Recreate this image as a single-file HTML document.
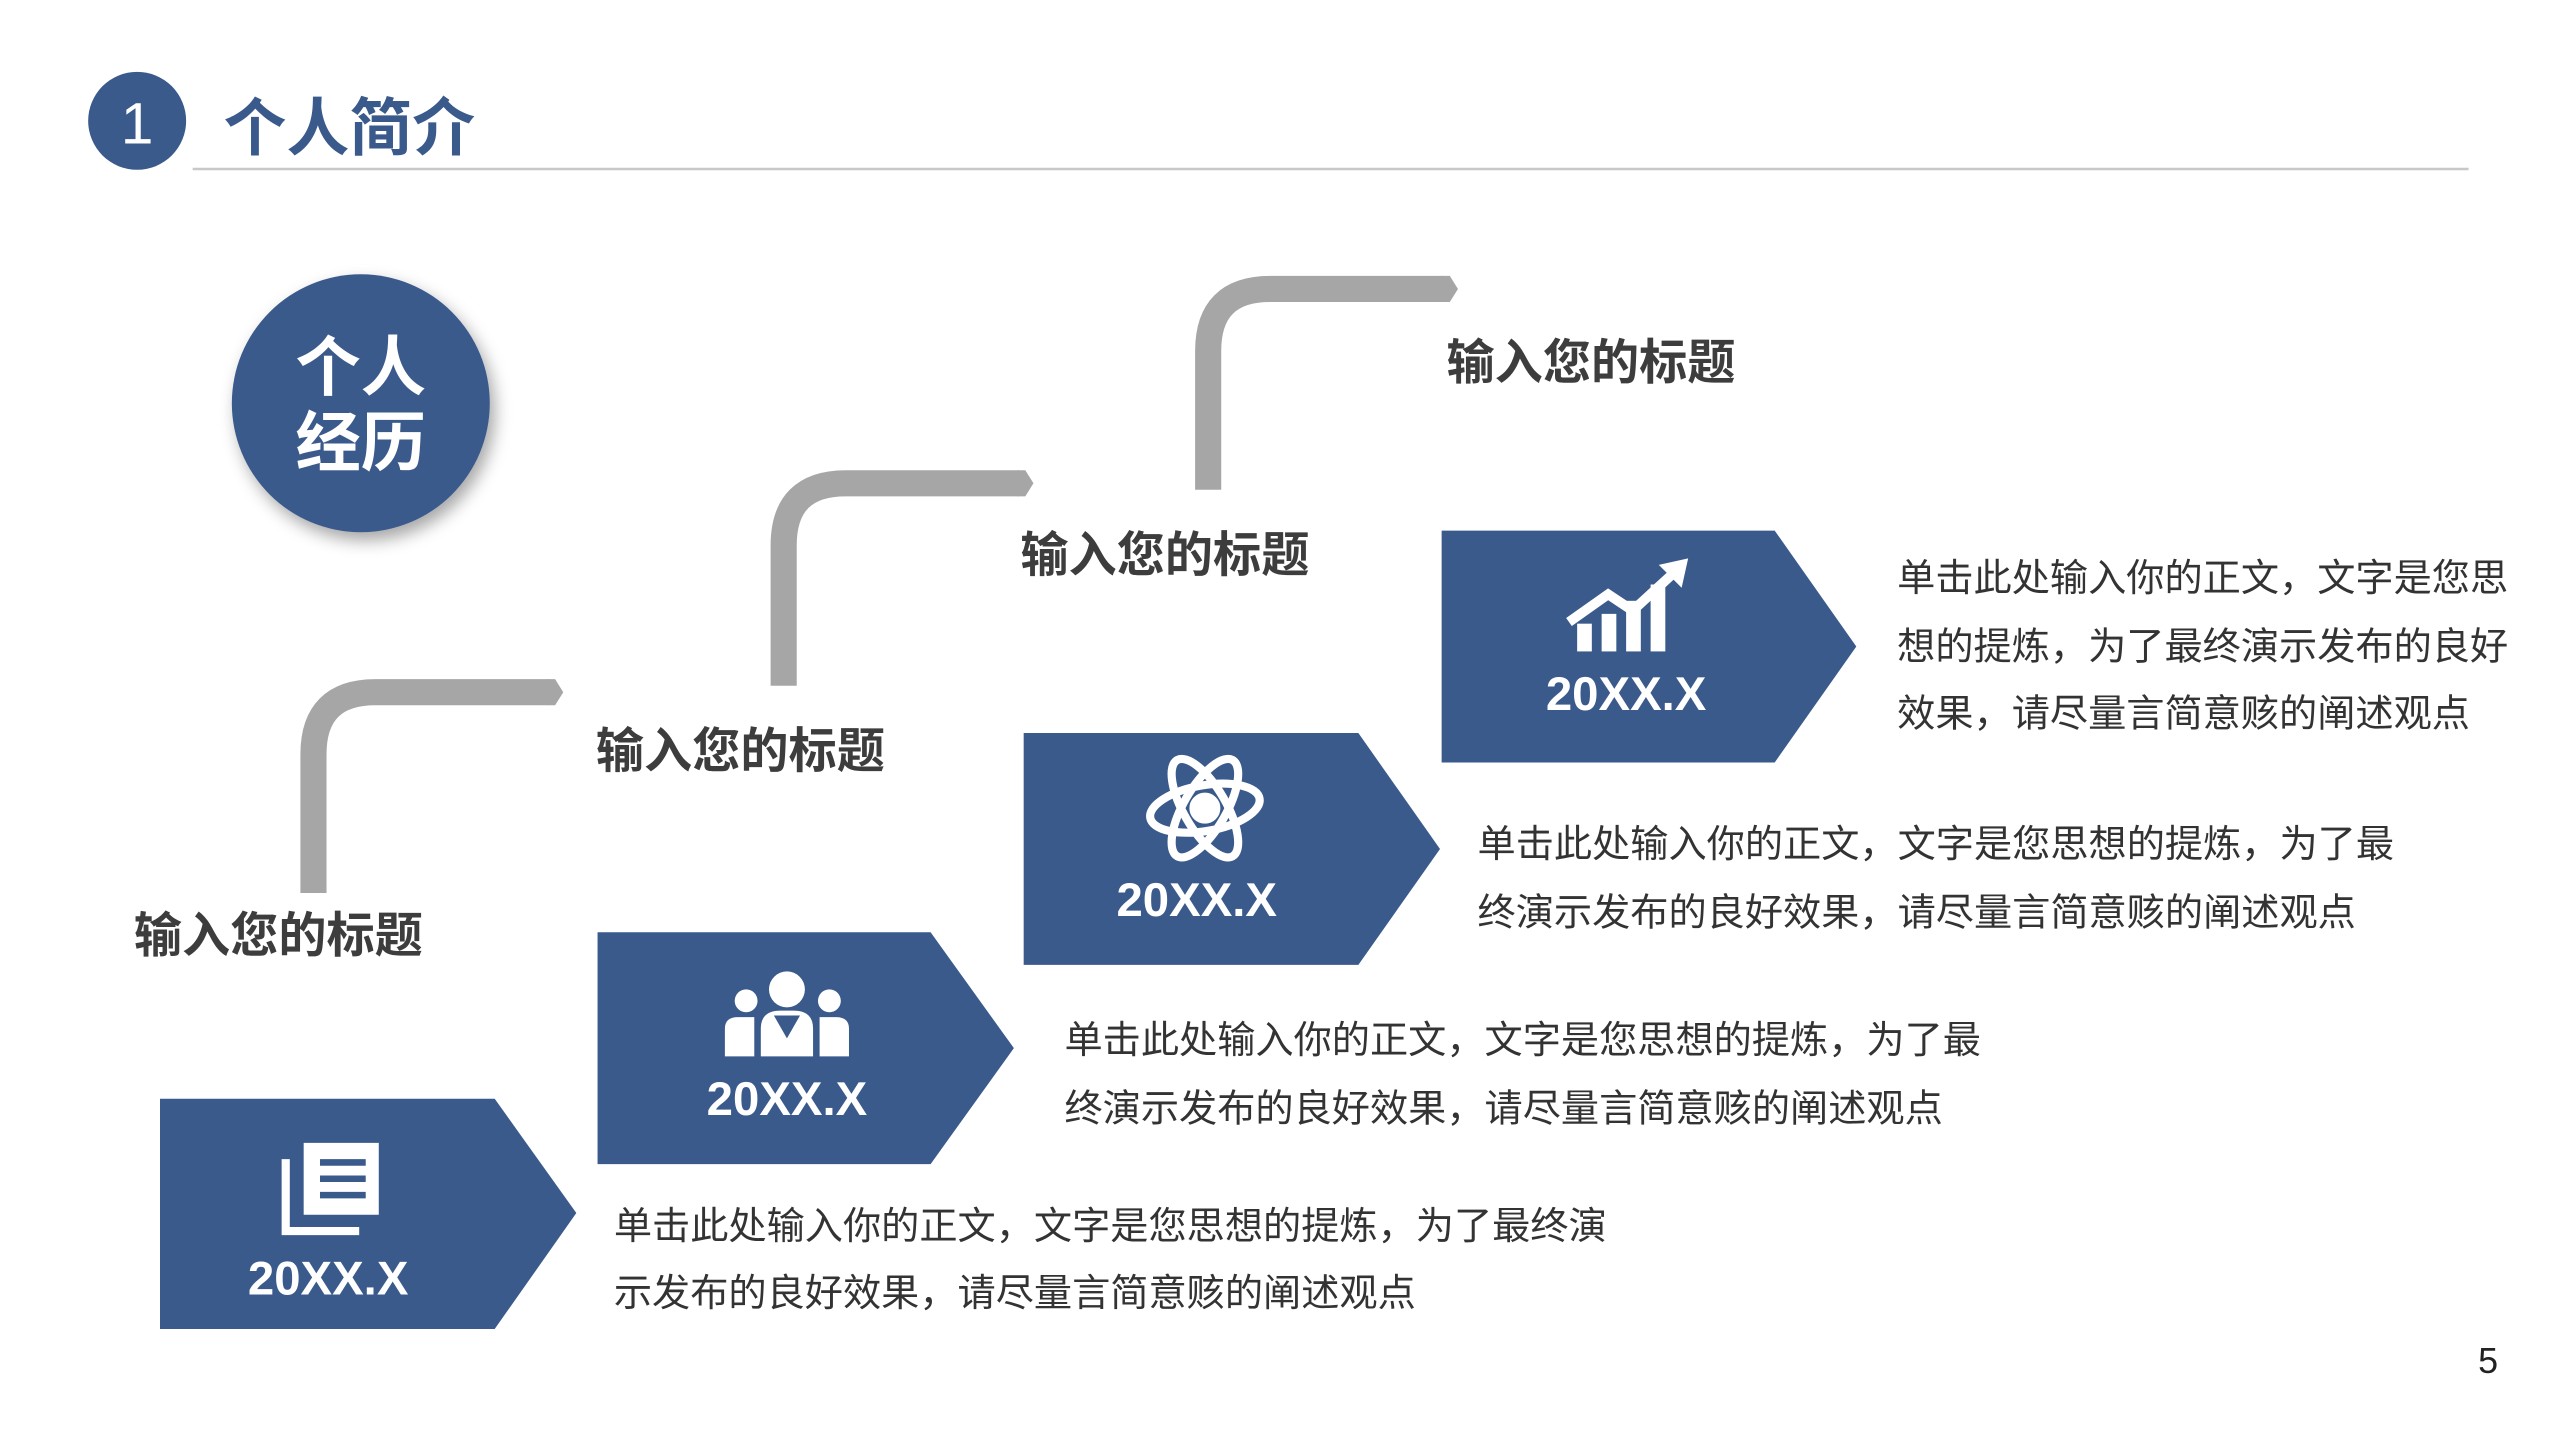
<!DOCTYPE html>
<html><head><meta charset="utf-8"><style>
html,body{margin:0;padding:0;background:#fff;}
svg{display:block;}
text{font-family:"Liberation Sans","Noto Sans CJK SC",sans-serif;}
</style></head><body>
<svg width="2560" height="1440" viewBox="0 0 1568 882" xmlns="http://www.w3.org/2000/svg">
<defs>
<filter id="sh" x="-30%" y="-30%" width="160%" height="160%"><feDropShadow dx="3" dy="5" stdDeviation="5" flood-color="#000" flood-opacity="0.35"/></filter>
</defs>
<rect width="1568" height="882" fill="#fff"/>
<circle cx="84" cy="74" r="30" fill="#3a5a8c"/>
<text x="84" y="88" font-size="36" fill="#fff" text-anchor="middle">1</text>
<text x="137" y="92" font-size="38.5" font-weight="bold" fill="#3a5a8c">个人简介</text>
<line x1="118" y1="103.5" x2="1512" y2="103.5" stroke="#c8c8c8" stroke-width="1.5"/>
<circle cx="221" cy="247" r="79" fill="#3a5a8c" filter="url(#sh)"/>
<text x="221" y="239" font-size="40" font-weight="bold" fill="#fff" text-anchor="middle">个人</text>
<text x="221" y="285" font-size="40" font-weight="bold" fill="#fff" text-anchor="middle">经历</text>
<g fill="none" stroke="#a6a6a6" stroke-width="16">
<path d="M192,547 V462 Q192,424 230,424 H336"/>
<path d="M480,420 V334 Q480,296 518,296 H624"/>
<path d="M740,300 V215 Q740,177 778,177 H884"/>
</g>
<g fill="#a6a6a6">
<polygon points="335,416 340,416 345,424 340,432 335,432"/>
<polygon points="623,288 628,288 633,296 628,304 623,304"/>
<polygon points="883,169 888,169 893,177 888,185 883,185"/>
</g>
<g font-size="29.5" font-weight="bold" fill="#3d3d3d">
<text x="82" y="583">输入您的标题</text>
<text x="365" y="470">输入您的标题</text>
<text x="625" y="350">输入您的标题</text>
<text x="886" y="232">输入您的标题</text>
</g>
<g fill="#3a5a8c">
<polygon points="98,673 303,673 353,743 303,814 98,814"/>
<polygon points="366,571 570,571 621,642 570,713 366,713"/>
<polygon points="627,449 832,449 882,520 832,591 627,591"/>
<polygon points="883,325 1087,325 1137,396 1087,467 883,467"/>
</g>
<g font-size="29" font-weight="bold" fill="#fff" text-anchor="middle">
<text x="201" y="793">20XX.X</text>
<text x="482" y="683">20XX.X</text>
<text x="733" y="561">20XX.X</text>
<text x="996" y="435">20XX.X</text>
</g>
<g fill="none" stroke="#fff" stroke-width="5">
<path d="M186,700 H232 V744 H186 Z" fill="#fff" stroke="none"/>
<path d="M175,710 V754 H220" stroke-width="5"/>
<path d="M196,712 H224 M196,722 H224 M196,732 H224" stroke="#3a5a8c" stroke-width="4"/>
</g>
<g fill="#fff">
<circle cx="482" cy="606" r="11"/>
<circle cx="457" cy="613" r="7"/>
<circle cx="508" cy="613" r="7"/>
<path d="M466,647 V630 Q466,619 478,619 H486 Q498,619 498,630 V647 Z"/>
<path d="M444,647 V630 Q444,623 452,623 H462 V647 Z"/>
<path d="M502,647 V623 H512 Q520,623 520,630 V647 Z"/>
<path d="M474,622 L482,636 L490,622 Z" fill="#3a5a8c"/>
</g>
<g fill="none" stroke="#fff" stroke-width="5">
<ellipse cx="738" cy="495" rx="34" ry="14" transform="rotate(-10 738 495)"/>
<ellipse cx="738" cy="495" rx="34" ry="13" transform="rotate(60 738 495)"/>
<ellipse cx="738" cy="495" rx="34" ry="13" transform="rotate(120 738 495)"/>
<circle cx="738" cy="495" r="7" fill="#fff"/>
</g>
<g fill="#fff">
<rect x="966" y="382" width="9" height="17"/>
<rect x="981" y="376" width="9" height="23"/>
<rect x="996" y="368" width="9" height="31"/>
<rect x="1011" y="358" width="9" height="41"/>
<path d="M961,381 L985,364 L1000,374 L1024,352" fill="none" stroke="#fff" stroke-width="6"/>
<polygon points="1016,346 1034,342 1030,360"/>
</g>
<g font-size="23.4" fill="#333">
<text x="376" y="759">单击此处输入你的正文，文字是您思想的提炼，为了最终演</text>
<text x="376" y="800">示发布的良好效果，请尽量言简意赅的阐述观点</text>
<text x="652" y="645">单击此处输入你的正文，文字是您思想的提炼，为了最</text>
<text x="652" y="687">终演示发布的良好效果，请尽量言简意赅的阐述观点</text>
<text x="905" y="525">单击此处输入你的正文，文字是您思想的提炼，为了最</text>
<text x="905" y="567">终演示发布的良好效果，请尽量言简意赅的阐述观点</text>
<text x="1162" y="362">单击此处输入你的正文，文字是您思</text>
<text x="1162" y="404">想的提炼，为了最终演示发布的良好</text>
<text x="1162" y="445">效果，请尽量言简意赅的阐述观点</text>
</g>
<text x="1524" y="841" font-size="22" fill="#222" text-anchor="middle">5</text>
</svg>
</body></html>
